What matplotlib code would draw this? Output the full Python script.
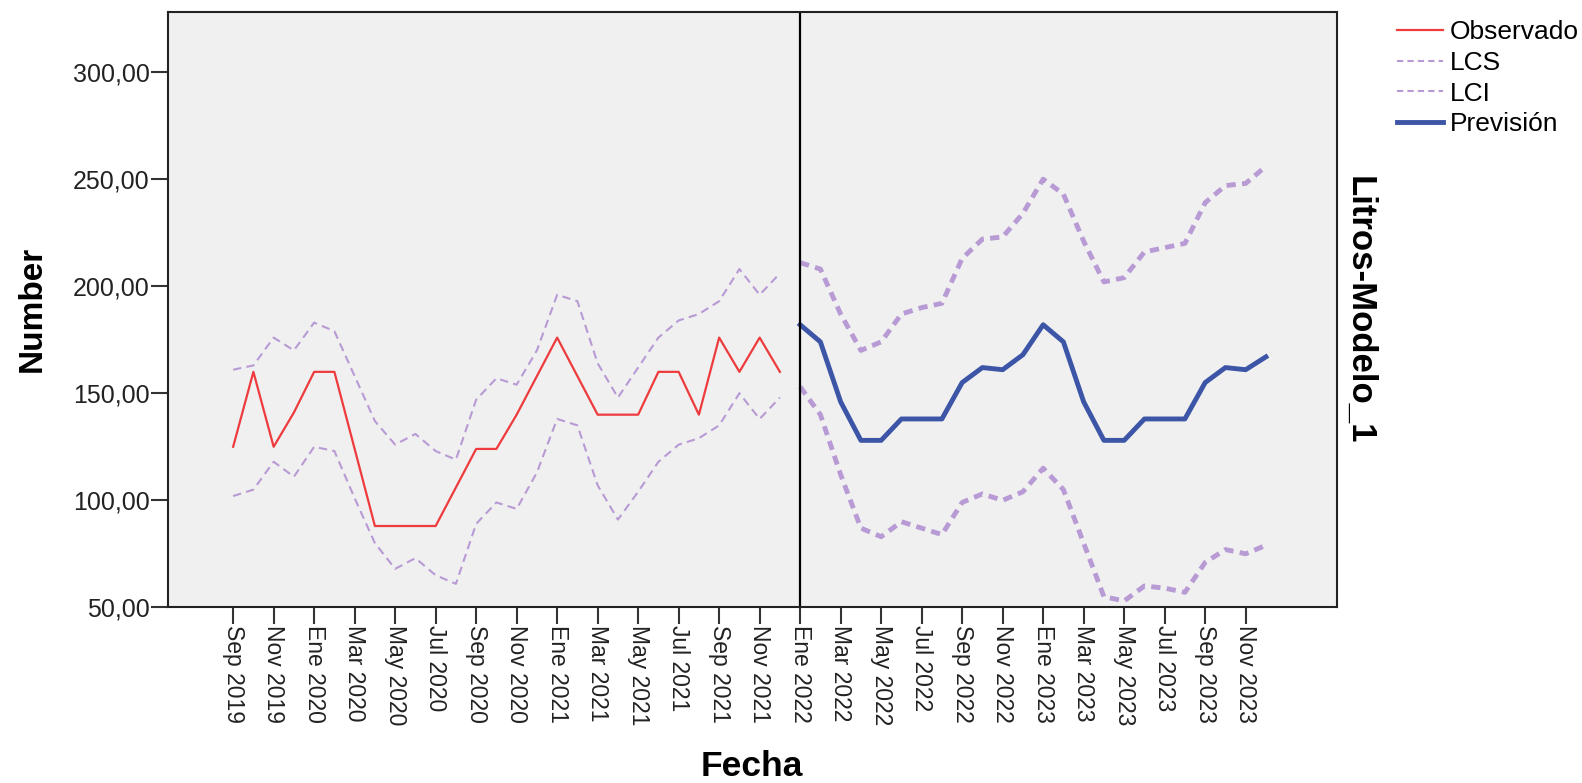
import numpy as np
import matplotlib
matplotlib.use("Agg")
import matplotlib.pyplot as plt
from matplotlib.lines import Line2D

plt.rcParams["font.family"] = ["Liberation Sans", "DejaVu Sans"]

# monthly series, Sep 2019 .. Dec 2023 (52 months); forecast starts Ene 2022
observado = [125, 160, 125, 141, 160, 160, 124, 88, 88, 88, 88, 106, 124, 124,
             140, 158, 176, 158, 140, 140, 140, 160, 160, 140, 176, 160, 176, 160]
prevision = [182, 174, 146, 128, 128, 138, 138, 138, 155, 162, 161, 168,
             182, 174, 146, 128, 128, 138, 138, 138, 155, 162, 161, 167]
lcs = [161, 163, 176, 170, 183, 179, 158, 137, 126, 131, 123, 119, 147, 157,
       154, 170, 196, 193, 164, 148, 162, 176, 184, 187, 193, 208, 196, 206,
       211, 208, 187, 170, 174, 187, 190, 192, 213, 222, 223, 234,
       250, 243, 221, 202, 204, 216, 218, 220, 239, 247, 248, 256]
lci = [102, 105, 118, 111, 125, 123, 101, 80, 68, 73, 65, 61, 89, 99,
       96, 113, 138, 135, 107, 91, 104, 118, 126, 129, 135, 150, 138, 148,
       153, 140, 112, 87, 83, 90, 87, 84, 99, 103, 100, 104,
       115, 105, 80, 55, 53, 60, 59, 57, 71, 77, 75, 79]
tick_labels = ["Sep 2019", "Nov 2019", "Ene 2020", "Mar 2020", "May 2020",
               "Jul 2020", "Sep 2020", "Nov 2020", "Ene 2021", "Mar 2021",
               "May 2021", "Jul 2021", "Sep 2021", "Nov 2021", "Ene 2022",
               "Mar 2022", "May 2022", "Jul 2022", "Sep 2022", "Nov 2022",
               "Ene 2023", "Mar 2023", "May 2023", "Jul 2023", "Sep 2023",
               "Nov 2023"]

RED = "#ee3b3d"
BLUE = "#3c55a6"
PURPLE = "#b89ad4"

n_obs = len(observado)
x = np.arange(len(lcs))
x_obs = x[:n_obs]
x_fc = x[n_obs:]

fig = plt.figure(figsize=(15.82, 7.83), dpi=100)
ax = fig.add_axes([0.1059, 0.2243, 0.7391, 0.7602])
ax.set_facecolor("#f0f0f0")

# confidence limits: thin over observed part, thick over forecast part
ax.plot(x_obs, lcs[:n_obs], color=PURPLE, lw=1.5, dashes=(4, 2.5))
ax.plot(x_obs, lci[:n_obs], color=PURPLE, lw=1.5, dashes=(4, 2.5))
ax.plot(x_fc, lcs[n_obs:], color=PURPLE, lw=3.5, dashes=(1.9, 1.3))
ax.plot(x_fc, lci[n_obs:], color=PURPLE, lw=3.5, dashes=(1.9, 1.3))
ax.plot(x_obs, observado, color=RED, lw=1.6)
ax.plot(x_fc, prevision, color=BLUE, lw=3.5)
ax.axvline(n_obs, color="black", lw=1.6)

ax.set_xlim(-3.24, 54.5)
ax.set_ylim(50, 328)
ax.set_yticks(np.arange(50, 301, 50))
ax.set_yticklabels([f"{v:.2f}".replace(".", ",") for v in np.arange(50, 301, 50)])
ax.set_xticks(x[::2])
ax.set_xticklabels(tick_labels, rotation=-90)
ax.tick_params(axis="both", length=12, width=1.5, color="#333333",
               labelcolor="#222222", pad=1)
ax.tick_params(axis="y", labelsize=18)
ax.tick_params(axis="x", labelsize=16.5)
for s in ax.spines.values():
    s.set_linewidth(1.5)
    s.set_color("#222222")

fig.text(0.0204, 0.606, "Number", rotation=90, fontsize=24, fontweight="bold",
         ha="center", va="center")
fig.text(0.475, 0.0206, "Fecha", fontsize=25.5, fontweight="bold",
         ha="center", va="center")
fig.text(0.8595, 0.604, "Litros-Modelo_1", rotation=270, fontsize=25,
         fontweight="bold", ha="center", va="center")

handles = [Line2D([], [], color=RED, lw=1.6),
           Line2D([], [], color=PURPLE, lw=1.5, dashes=(3, 2)),
           Line2D([], [], color=PURPLE, lw=1.5, dashes=(3, 2)),
           Line2D([], [], color=BLUE, lw=3.5)]
fig.legend(handles, ["Observado", "LCS", "LCI", "Previsión"],
           loc="upper left", bbox_to_anchor=(0.883, 0.974), frameon=False,
           fontsize=19, handlelength=1.75, handletextpad=0.27,
           labelspacing=0.25, borderpad=0, borderaxespad=0)

fig.savefig("out.png", dpi=100)
